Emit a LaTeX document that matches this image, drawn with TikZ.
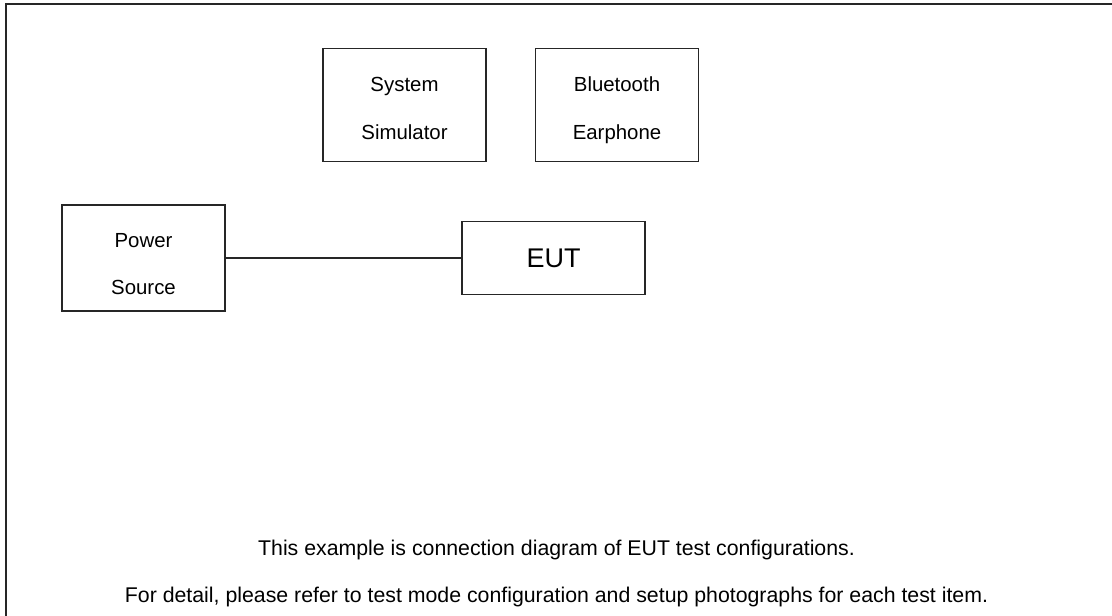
\documentclass[tikz,border=0pt]{standalone}
\usepackage{fontspec}
\setmainfont{Liberation Sans}
\begin{document}
\begin{tikzpicture}[x=1pt,y=-1pt,
  boxstyle/.style={draw=black!85, line width=1.4pt, minimum width=163pt, inner sep=0pt},
  boxtext/.style={font=\fontsize{20.4}{24}\selectfont, inner sep=0pt, anchor=base},
  caption/.style={font=\fontsize{21.3}{25}\selectfont, inner sep=0pt, anchor=base}]
\useasboundingbox (0,0) rectangle (1112,616);
\draw[line width=2pt, black!85] (1112,3.5) coordinate (tr) -- (5.5,3.5) coordinate (tl) -- (5.5,616) coordinate (bl);
% boxes
\node[boxstyle, minimum height=113pt] (sim) at (404.5,105) {};
\node[boxstyle, minimum height=113pt] (bt) at (617,105) {};
\node[boxstyle, minimum height=106pt] (ps) at (143.5,258) {};
\node[boxstyle, minimum width=183pt, minimum height=73pt, font=\fontsize{27}{30}\selectfont] (eut) at (553.5,258) {EUT};
% labels
\node[boxtext] (simA) at (404.5,91) {System};
\node[boxtext] (simB) at (404.5,139) {Simulator};
\node[boxtext] (btA) at (617,91) {Bluetooth};
\node[boxtext] (btB) at (617,139) {Earphone};
\node[boxtext] (psA) at (143.5,247) {Power};
\node[boxtext] (psB) at (143.5,294) {Source};
% connector
\draw[line width=1.4pt, black!85] (ps.east) -- (eut.west);
% captions
\node[caption] (c1) at (556.5,555) {This example is connection diagram of EUT test configurations.};
\node[caption] (c2) at (556.5,602) {For detail, please refer to test mode configuration and setup photographs for each test item.};
\end{tikzpicture}
\end{document}
